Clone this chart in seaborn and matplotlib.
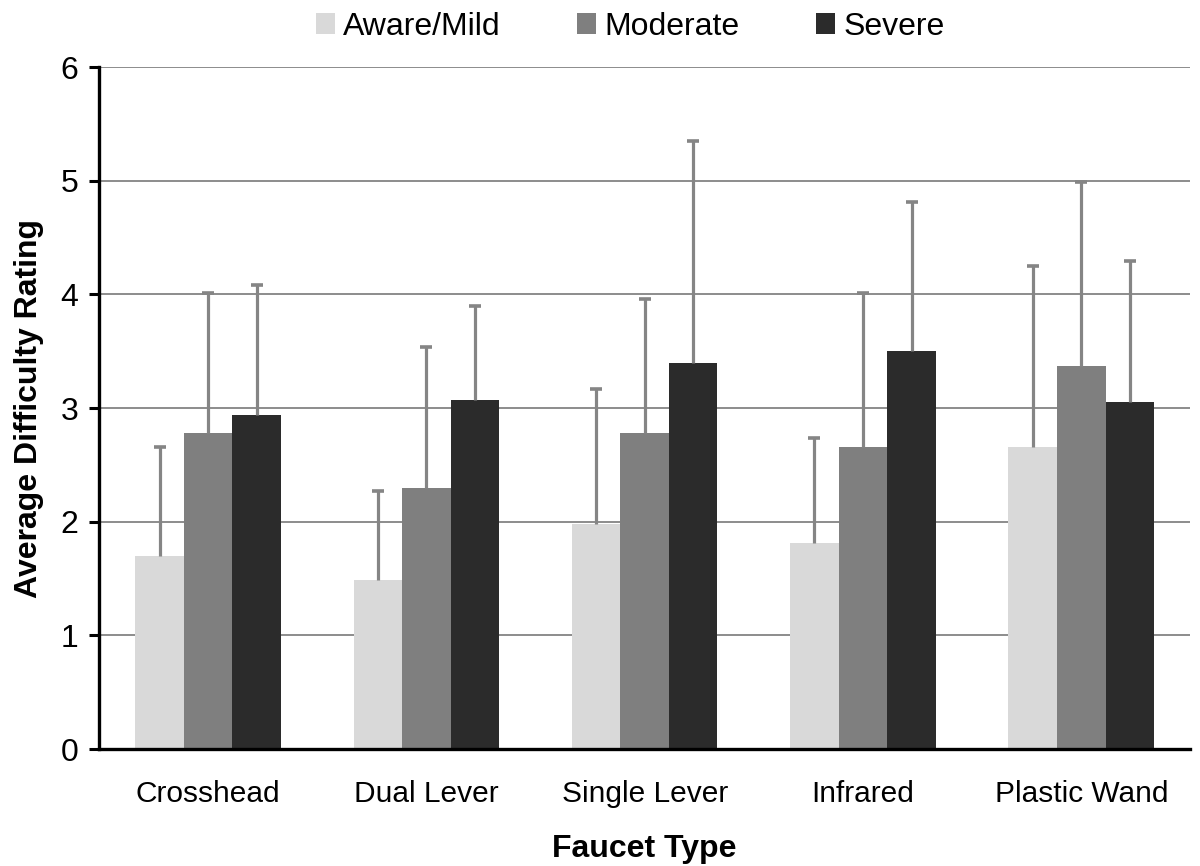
import numpy as np
import pandas as pd
from matplotlib import pyplot as plt
import seaborn as sns

sns.set_theme(style='white')
plt.rcParams['font.family'] = ['Liberation Sans', 'DejaVu Sans']
plt.rcParams['text.color'] = 'black'
plt.rcParams['axes.labelcolor'] = 'black'
plt.rcParams['xtick.color'] = 'black'
plt.rcParams['ytick.color'] = 'black'

faucets = ['Crosshead', 'Dual Lever', 'Single Lever', 'Infrared', 'Plastic Wand']
groups = ['Aware/Mild', 'Moderate', 'Severe']

mild = [1.70, 1.49, 1.98, 1.81, 2.66]
moderate = [2.78, 2.30, 2.78, 2.66, 3.37]
severe = [2.94, 3.07, 3.40, 3.50, 3.05]

# standard deviations (upper bar only)
mild_sd = [0.96, 0.78, 1.19, 0.93, 1.59]
moderate_sd = [1.23, 1.24, 1.18, 1.35, 1.62]
severe_sd = [1.14, 0.83, 1.95, 1.31, 1.24]

colors = ['#d9d9d9', '#7f7f7f', '#2b2b2b']

rows = []
for g, vals, sds in zip(groups, [mild, moderate, severe], [mild_sd, moderate_sd, severe_sd]):
    for f, v, sd in zip(faucets, vals, sds):
        rows.append({'Faucet Type': f, 'Severity': g, 'mean': v, 'sd': sd})
df = pd.DataFrame(rows)

fig = plt.figure(figsize=(12, 8.66), dpi=100)
ax = fig.add_axes([0.0825, 0.135, 0.9095, 0.7876])

sns.barplot(data=df, x='Faucet Type', y='mean', hue='Severity', order=faucets,
            hue_order=groups, palette=colors, width=0.667, linewidth=0,
            errorbar=None, saturation=1, ax=ax, zorder=2)

# one-sided error bars from the bar tops
for cont, g in zip(ax.containers, groups):
    sub = df[df['Severity'] == g].set_index('Faucet Type').loc[faucets]
    xs = [p.get_x() + p.get_width() / 2 for p in cont.patches]
    means = sub['mean'].values
    eb = ax.errorbar(xs, means, yerr=[np.zeros(len(xs)), sub['sd'].values],
                     fmt='none', ecolor='#858585', elinewidth=2.3, capsize=4.3,
                     capthick=2.6, zorder=3)
    # no cap at the bar top, only at the upper end
    for cap in eb[1]:
        if np.allclose(cap.get_ydata(), means):
            cap.set_visible(False)

ax.set_xlim(-0.5, 4.5)
ax.set_ylim(0, 6)
ax.set_yticks(range(0, 7))
ax.yaxis.grid(True, color='#8c8c8c', linewidth=1.4, zorder=0)
ax.set_axisbelow(True)
for side in ['top', 'right']:
    ax.spines[side].set_visible(False)
for side in ['left', 'bottom']:
    ax.spines[side].set_color('black')
    ax.spines[side].set_linewidth(2.4)
ax.tick_params(axis='y', which='major', left=True, length=7, width=2.2,
               color='black', labelsize=23, pad=8)
ax.tick_params(axis='x', bottom=False, labelsize=21.5, pad=16)

ax.set_xlabel('Faucet Type', fontsize=23, fontweight='bold', labelpad=19)
ax.set_ylabel('Average Difficulty Rating', fontsize=23, fontweight='bold', labelpad=12)

ax.legend(loc='center', bbox_to_anchor=(0.525, 0.969), bbox_transform=fig.transFigure,
          ncol=3, frameon=False, fontsize=23, handlelength=0.6, handleheight=0.6,
          handletextpad=0.25, columnspacing=2.4, title=None)

fig.savefig('out.png', dpi=100)
